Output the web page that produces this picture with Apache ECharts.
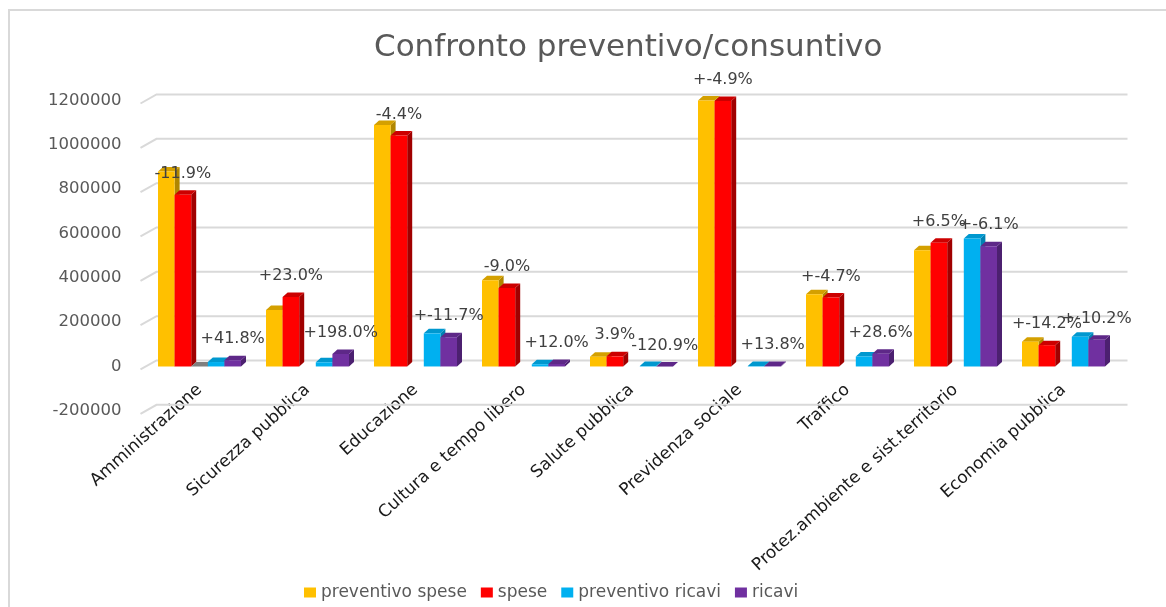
<!DOCTYPE html>
<html>
<head>
<meta charset="utf-8">
<title>Confronto preventivo/consuntivo</title>
<script src="https://cdn.jsdelivr.net/npm/echarts@6/dist/echarts.min.js"></script>
<style>
  html, body { margin: 0; padding: 0; background: #fff; }
  #chart-container { width: 1166px; height: 607px; }
</style>
</head>
<body>
<div id="chart-container"></div>
<script>
// Confronto preventivo/consuntivo - barre 3D stile Excel

// categorie (asse x)
var CATEGORIE = [
    'Amministrazione', 'Sicurezza pubblica', 'Educazione', 'Cultura e tempo libero',
    'Salute pubblica', 'Previdenza sociale', 'Traffico',
    'Protez.ambiente e sist.territorio', 'Economia pubblica'
];

// valori
var PREVENTIVO_SPESE = [880000, 255000, 1090000, 389000, 44000, 1260000, 326000, 524000, 112000];
var SPESE = [775000, 313700, 1042000, 354000, 45700, 1198000, 310700, 558000, 96100];
var VUOTO = [0, null, null, null, null, null, null, null, null];
var PREVENTIVO_RICAVI = [20000, 18900, 149500, 10000, 2000, 2000, 45000, 577000, 134000];
var RICAVI = [28400, 56300, 132000, 11200, -418, 2276, 57900, 542000, 120300];

// etichette percentuali
var ETICHETTE_SPESE = ['-11.9%', '+23.0%', '-4.4%', '-9.0%', '3.9%', '+-4.9%', '+-4.7%', '+6.5%', '+-14.2%'];
var ETICHETTE_RICAVI = ['+41.8%', '+198.0%', '+-11.7%', '+12.0%', '-120.9%', '+13.8%', '+28.6%', '+-6.1%', '+-10.2%'];

// tacche asse y
var TICK_Y = [-200000, 0, 200000, 400000, 600000, 800000, 1000000, 1200000];

var FONT = 'DejaVu Sans';
var Y_MIN = TICK_Y[0];
var Y_MAX = TICK_Y[TICK_Y.length - 1];

var GRID_TOP = 100.5;
var GRID_BOTTOM = 196.2;
var GRID_H = 607 - GRID_TOP - GRID_BOTTOM;

var myChart = echarts.init(document.getElementById('chart-container'));

// disegna una barra 3D (fronte, lato, tetto)
function barRenderer(slot, colori, etichette) {
    return function (params, api) {
        var cat = api.value(0);
        var val = api.value(1);
        if (val == null || isNaN(val)) return;
        var v = Math.min(Math.max(val, Y_MIN), Y_MAX);
        var band = api.size([1, 0])[0];
        var w = band * 0.1537;
        var base = api.coord([cat, 0]);
        var top = api.coord([cat, v]);
        var x0 = base[0] - w * 2.5 + slot * w;
        var yT = Math.min(top[1], base[1]);
        var yB = Math.max(top[1], base[1]);
        var dx = 5, dy = 4.5;
        var children = [
            {
                type: 'polygon',
                shape: { points: [[x0 + w, yT], [x0 + w + dx, yT - dy], [x0 + w + dx, yB - dy], [x0 + w, yB]] },
                style: { fill: colori.lato }
            },
            {
                type: 'polygon',
                shape: { points: [[x0, yT], [x0 + dx, yT - dy], [x0 + w + dx, yT - dy], [x0 + w, yT]] },
                style: { fill: colori.tetto }
            },
            {
                type: 'rect',
                shape: { x: x0, y: yT, width: w, height: yB - yT },
                style: { fill: colori.fronte }
            }
        ];
        if (etichette) {
            children.push({
                type: 'text',
                x: x0 + w / 2,
                y: yT - 21,
                z2: 100,
                style: {
                    text: etichette[params.dataIndex],
                    fill: '#404040',
                    fontSize: 16,
                    fontFamily: FONT,
                    align: 'center',
                    verticalAlign: 'middle'
                }
            });
        }
        return { type: 'group', children: children };
    };
}

// griglia sulla parete di fondo con il raccordo prospettico a sinistra
function gridRenderer(params, api) {
    var cs = params.coordSys;
    var y = api.coord([0, api.value(1)])[1];
    return {
        type: 'polyline',
        silent: true,
        shape: { points: [[cs.x - 5, y + 3], [cs.x + 11, y - 6], [cs.x + cs.width + 10, y - 6]] },
        style: { stroke: '#d9d9d9', lineWidth: 2, fill: null }
    };
}

function toData(arr) {
    return arr.map(function (v, i) { return [i, v]; });
}

function serie(nome, valori, slot, colori, etichette) {
    return {
        name: nome,
        type: 'custom',
        renderItem: barRenderer(slot, colori, etichette),
        encode: { x: 0, y: 1 },
        itemStyle: { color: colori.fronte },
        data: toData(valori),
        z: 3
    };
}

var option = {
    backgroundColor: '#ffffff',
    animation: false,
    title: {
        text: 'Confronto preventivo/consuntivo',
        left: 374,
        top: 29.5,
        padding: 0,
        textStyle: {
            fontFamily: FONT,
            fontSize: 31,
            fontWeight: 'normal',
            color: '#595959',
            lineHeight: 36
        }
    },
    legend: {
        data: ['preventivo spese', 'spese', 'preventivo ricavi', 'ricavi'],
        left: 299,
        top: 579,
        icon: 'rect',
        itemWidth: 12,
        itemHeight: 10,
        itemGap: 14,
        textStyle: { fontFamily: FONT, fontSize: 17, color: '#595959' }
    },
    graphic: [{
        type: 'rect',
        shape: { x: 9, y: 10, width: 1200, height: 700 },
        style: { fill: null, stroke: '#d9d9d9', lineWidth: 2 },
        silent: true
    }],
    grid: {
        left: 145.5,
        right: 48.5,
        top: GRID_TOP,
        bottom: GRID_BOTTOM
    },
    xAxis: {
        type: 'category',
        data: CATEGORIE,
        // asse delle categorie sulla linea dello zero
        offset: -GRID_H * (0 - Y_MIN) / (Y_MAX - Y_MIN),
        axisLine: { show: false, onZero: false },
        axisTick: { show: false },
        axisLabel: {
            interval: 0,
            rotate: 42,
            margin: 21,
            fontFamily: FONT,
            fontSize: 17,
            color: '#1a1a1a'
        },
        splitLine: { show: false }
    },
    yAxis: {
        type: 'value',
        min: Y_MIN,
        max: Y_MAX,
        interval: 200000,
        axisLine: { show: false },
        axisTick: { show: false },
        splitLine: { show: false },
        axisLabel: {
            margin: 24,
            fontFamily: FONT,
            fontSize: 16.5,
            color: '#595959',
            padding: [6, 0, 0, 0],
            formatter: function (v) { return String(v); }
        }
    },
    series: [
        {
            name: 'griglia',
            type: 'custom',
            renderItem: gridRenderer,
            encode: { x: 0, y: 1 },
            data: TICK_Y.map(function (t) { return [0, t]; }),
            silent: true,
            z: 1
        },
        serie('preventivo spese', PREVENTIVO_SPESE, 0, { fronte: '#FFC000', tetto: '#D4A000', lato: '#B08600' }),
        serie('spese', SPESE, 1, { fronte: '#FF0000', tetto: '#CC0000', lato: '#A00000' }, ETICHETTE_SPESE),
        serie('vuoto', VUOTO, 2, { fronte: '#7F7F7F', tetto: '#7F7F7F', lato: '#666666' }),
        serie('preventivo ricavi', PREVENTIVO_RICAVI, 3, { fronte: '#00B0F0', tetto: '#0098CF', lato: '#0082B2' }),
        serie('ricavi', RICAVI, 4, { fronte: '#7030A0', tetto: '#5E2888', lato: '#4C2070' }, ETICHETTE_RICAVI)
    ]
};

myChart.setOption(option);

window.addEventListener('resize', function () {
    myChart.resize();
});
</script>
</body>
</html>
